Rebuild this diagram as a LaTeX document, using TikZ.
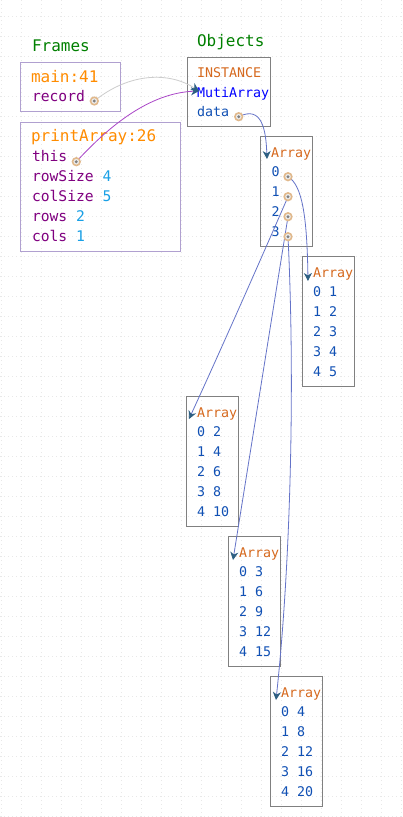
\documentclass[tikz,border=0pt]{standalone}
\usepackage{fontspec}
\setmonofont{DejaVu Sans Mono}
\usetikzlibrary{arrows.meta}
\definecolor{headc}{RGB}{0,128,0}
\definecolor{framehc}{RGB}{255,140,0}
\definecolor{varc}{RGB}{128,0,128}
\definecolor{valc}{RGB}{25,160,230}
\definecolor{objhc}{RGB}{214,105,30}
\definecolor{typec}{RGB}{0,0,255}
\definecolor{objtc}{RGB}{16,80,180}
\definecolor{framebc}{RGB}{176,160,208}
\definecolor{objbc}{RGB}{128,128,128}
\definecolor{graylc}{RGB}{205,205,205}
\definecolor{purplc}{RGB}{170,70,200}
\definecolor{bluelc}{RGB}{100,115,200}
\definecolor{arrc}{RGB}{45,95,130}
\definecolor{ringc}{RGB}{225,185,140}
\definecolor{gridc}{RGB}{232,232,232}
\begin{document}
\begin{tikzpicture}[x=1pt,y=-1pt]
\tikzset{
 txt/.style={anchor=base west, inner sep=0pt, outer sep=0pt},
 big/.style={txt, font=\ttfamily\fontsize{16}{18}\selectfont},
 mid/.style={txt, font=\ttfamily\fontsize{14.67}{17}\selectfont},
 sml/.style={txt, font=\ttfamily\fontsize{13.33}{16}\selectfont},
 fbox/.style={draw=framebc, line width=1pt, anchor=north west, inner sep=0pt, outer sep=0pt},
 obox/.style={draw=objbc, line width=1pt, anchor=north west, inner sep=0pt, outer sep=0pt},
 ptr/.style={line width=0.8pt, -{Stealth[length=8pt,width=8pt,inset=2.5pt,color=arrc]}},
 ptrdot/.style={draw=ringc, line width=1.6pt, fill=white!85!gray},
}
\useasboundingbox (0,0) rectangle (403,817);
\fill[white] (0,0) rectangle (403,817);
% grid
\foreach \gx in {1,21,...,401} \draw[gridc, line width=1pt, dash pattern=on 1pt off 3pt] (\gx,0) -- (\gx,817);
\foreach \gy in {16,36,...,816} \draw[gridc, line width=1pt, dash pattern=on 1pt off 3pt] (0,\gy) -- (403,\gy);

% headings
\node[big, text=headc] (frames) at (32,51.7) {Frames};
\node[big, text=headc] (objects) at (197,46.7) {Objects};

% frame boxes
\node[fbox, minimum width=100pt, minimum height=49pt] (mainbox) at (20,62) {};
\node[fbox, minimum width=160pt, minimum height=129pt] (pabox) at (20,122) {};
\node[big, text=framehc] (mainlbl) at (31,82.3) {main:41};
\node[mid, text=varc] (record) at (32,101.7) {record};
\node[big, text=framehc] (palbl) at (31,141.7) {printArray:26};
\node[mid, text=varc] (this) at (32,161.7) {this};
\node[mid] (rowsize) at (32,181.7) {\textcolor{varc}{rowSize} \textcolor{valc}{4}};
\node[mid] (colsize) at (32,201.7) {\textcolor{varc}{colSize} \textcolor{valc}{5}};
\node[mid] (rows) at (32,221.7) {\textcolor{varc}{rows} \textcolor{valc}{2}};
\node[mid] (cols) at (32,241.7) {\textcolor{varc}{cols} \textcolor{valc}{1}};

% instance box
\node[obox, minimum width=83pt, minimum height=69pt] (instbox) at (187,57) {};
\node[sml, text=objhc] (inst) at (197,77.3) {INSTANCE};
\node[sml, text=typec] (muti) at (197,97.3) {MutiArray};
\node[sml, text=objtc] (data) at (197,116.7) {data};

% main array
\node[obox, minimum width=52pt, minimum height=110pt] (arr0box) at (260,136) {};
\node[sml, text=objhc] (arr0h) at (271,157.3) {Array};
\node[sml, text=objtc] (arr0i0) at (271.5,176.7) {0};
\node[sml, text=objtc] (arr0i1) at (271.5,196.7) {1};
\node[sml, text=objtc] (arr0i2) at (271.5,216.7) {2};
\node[sml, text=objtc] (arr0i3) at (271.5,236.7) {3};

% array 1
\node[obox, minimum width=52pt, minimum height=130pt] (arr1box) at (302,256) {};
\node[sml, text=objhc] (arr1h) at (313,277.3) {Array};
\node[sml, text=objtc] (arr1r0) at (313,296.7) {0 1};
\node[sml, text=objtc] (arr1r1) at (313,316.7) {1 2};
\node[sml, text=objtc] (arr1r2) at (313,336.7) {2 3};
\node[sml, text=objtc] (arr1r3) at (313,356.7) {3 4};
\node[sml, text=objtc] (arr1r4) at (313,376.7) {4 5};

% array 2
\node[obox, minimum width=52pt, minimum height=130pt] (arr2box) at (186,396) {};
\node[sml, text=objhc] (arr2h) at (197,417.3) {Array};
\node[sml, text=objtc] (arr2r0) at (197,436.7) {0 2};
\node[sml, text=objtc] (arr2r1) at (197,456.7) {1 4};
\node[sml, text=objtc] (arr2r2) at (197,476.7) {2 6};
\node[sml, text=objtc] (arr2r3) at (197,496.7) {3 8};
\node[sml, text=objtc] (arr2r4) at (197,516.7) {4 10};

% array 3
\node[obox, minimum width=52pt, minimum height=130pt] (arr3box) at (228,536) {};
\node[sml, text=objhc] (arr3h) at (239,557.3) {Array};
\node[sml, text=objtc] (arr3r0) at (239,576.7) {0 3};
\node[sml, text=objtc] (arr3r1) at (239,596.7) {1 6};
\node[sml, text=objtc] (arr3r2) at (239,616.7) {2 9};
\node[sml, text=objtc] (arr3r3) at (239,636.7) {3 12};
\node[sml, text=objtc] (arr3r4) at (239,656.7) {4 15};

% array 4
\node[obox, minimum width=52pt, minimum height=130pt] (arr4box) at (270,676) {};
\node[sml, text=objhc] (arr4h) at (281,697.3) {Array};
\node[sml, text=objtc] (arr4r0) at (281,716.7) {0 4};
\node[sml, text=objtc] (arr4r1) at (281,736.7) {1 8};
\node[sml, text=objtc] (arr4r2) at (281,756.7) {2 12};
\node[sml, text=objtc] (arr4r3) at (281,776.7) {3 16};
\node[sml, text=objtc] (arr4r4) at (281,796.7) {4 20};

% pointer sources and targets
\coordinate (recdot) at (94.3,101);
\coordinate (thisdot) at (76.3,161.7);
\coordinate (datadot) at (238.7,116.7);
\coordinate (a0dot) at (288,176.7);
\coordinate (a1dot) at (288,196.7);
\coordinate (a2dot) at (288,216.7);
\coordinate (a3dot) at (288,236.7);
\coordinate (mutitip) at (199,91);
\coordinate (arr0tip) at (267,159);
\coordinate (arr1tip) at (308,281);
\coordinate (arr2tip) at (189,419);
\coordinate (arr3tip) at (233,560);
\coordinate (arr4tip) at (276,700);

% connectors
\draw[ptr, graylc] (recdot) .. controls (130,72) and (170,72) .. (mutitip);
\draw[ptr, purplc] (thisdot) .. controls (110,125) and (150,93) .. (mutitip);
\draw[ptr, bluelc] (datadot) .. controls (262,105) and (266,130) .. (arr0tip);
\draw[ptr, bluelc] (a0dot) .. controls (302,185) and (307,215) .. (arr1tip);
\draw[ptr, bluelc] (a1dot) .. controls (284,206) and (230,330) .. (arr2tip);
\draw[ptr, bluelc] (a2dot) -- (arr3tip);
\draw[ptr, bluelc] (a3dot) .. controls (295,380) and (291,560) .. (arr4tip);

% pointer dots
\foreach \d in {recdot,thisdot,datadot,a0dot,a1dot,a2dot,a3dot}{
  \draw[ptrdot] (\d) circle (3.8);
  \fill[gray] (\d) circle (1.6);
}
\end{tikzpicture}
\end{document}
